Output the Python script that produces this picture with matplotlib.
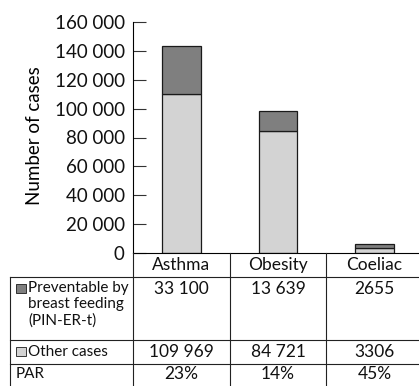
import matplotlib
matplotlib.use('Agg')
import matplotlib.pyplot as plt
from matplotlib.patches import Rectangle
from matplotlib.ticker import FuncFormatter

# Données
categories = ['Asthma', 'Obesity', 'Coeliac']
preventable = [33100, 13639, 2655]
other_cases = [109969, 84721, 3306]
par = [23, 14, 45]
yticks = list(range(0, 160001, 20000))

dark = '#7f7f7f'
light = '#d3d3d3'
edge = '#1a1a1a'


def fmt(n):
    # séparateur de milliers : espace, seulement à partir de 10 000
    if n >= 10000:
        return f'{n:,}'.replace(',', ' ')
    return str(n)


plt.rcParams['font.family'] = ['Lato', 'DejaVu Sans']
plt.rcParams['text.color'] = '#111111'

W, H = 419, 386
fig = plt.figure(figsize=(W / 100, H / 100), dpi=100)

# Graphique principal
ax = fig.add_axes([133 / W, 133 / H, 290 / W, 231 / H])
x = [i + 0.5 for i in range(len(categories))]
ax.bar(x, other_cases, width=0.4, color=light, edgecolor=edge, linewidth=0.9)
ax.bar(x, preventable, width=0.4, bottom=other_cases, color=dark, edgecolor=edge, linewidth=0.9)
ax.set_xlim(0, 3)
ax.set_ylim(0, 160000)
ax.set_yticks(yticks)
ax.yaxis.set_major_formatter(FuncFormatter(lambda v, p: fmt(int(v)) if v >= 10000 else str(int(v))))
ax.set_xticks([])
ax.tick_params(axis='y', direction='in', length=9.5, width=0.8, pad=6, labelsize=13.5, color='#333333',
               labelcolor='#111111')
for s in ['top', 'right']:
    ax.spines[s].set_visible(False)
ax.spines['left'].set_linewidth(0.8)
ax.spines['bottom'].set_linewidth(0.8)
ax.set_ylabel('Number of cases', fontsize=13.5, va='center')
ax.yaxis.set_label_coords(-0.338, 0.506)

# Tableau sous le graphique (unités x du graphique, y en pixels depuis le haut du tableau)
tb = fig.add_axes([133 / W, 0, 290 / W, 133 / H])
tb.set_xlim(0, 3)
tb.set_ylim(133, 0)
tb.axis('off')
xl = -123 / 96.67
lw = 0.8
lc = '#222222'
for yy in [24, 87, 111]:
    tb.plot([xl, 3], [yy, yy], color=lc, lw=lw, clip_on=False)
tb.plot([xl, xl], [24, 133], color=lc, lw=lw, clip_on=False)
for xx in [0, 1, 2]:
    tb.plot([xx, xx], [0, 133], color=lc, lw=lw, clip_on=False)

fs = 12.5
for i, c in enumerate(categories):
    tb.text(x[i], 12, c, ha='center', va='center', fontsize=fs)
    tb.text(x[i], 28, fmt(preventable[i]), ha='center', va='top', fontsize=fs)
    tb.text(x[i], 99, fmt(other_cases[i]), ha='center', va='center', fontsize=fs)
    tb.text(x[i], 121, f'{par[i]}%', ha='center', va='center', fontsize=fs)

px = 96.67
fl = 11
tx = xl + 18 / px
tb.add_patch(Rectangle((xl + 6 / px, 31), 10 / px, 9, facecolor=dark, edgecolor=edge, lw=0.6, clip_on=False))
tb.add_patch(Rectangle((xl + 6 / px, 94), 10 / px, 9, facecolor=light, edgecolor=edge, lw=0.6, clip_on=False))
tb.text(tx, 28, 'Preventable by\nbreast feeding\n(PIN-ER-t)', ha='left', va='top', fontsize=fl, linespacing=1.2)
tb.text(tx, 99, 'Other cases', ha='left', va='center', fontsize=fl)
tb.text(xl + 6 / px, 121, 'PAR', ha='left', va='center', fontsize=fl)

fig.savefig('out.png', dpi=100)
